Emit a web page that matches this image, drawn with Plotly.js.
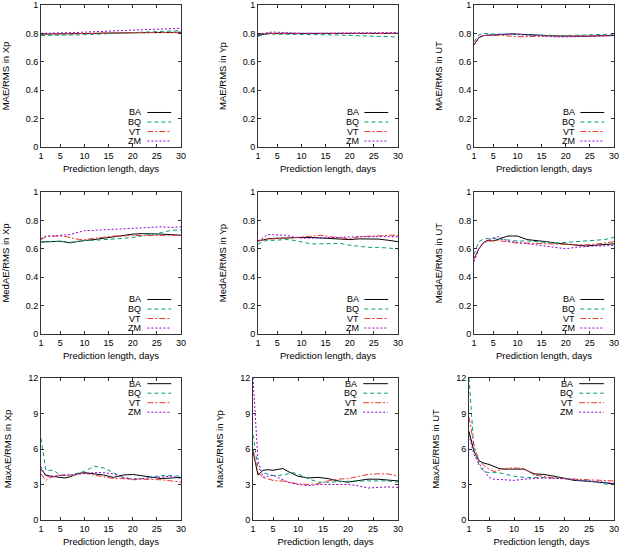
<!DOCTYPE html>
<html>
<head>
<meta charset="utf-8">
<script src="https://cdn.plot.ly/plotly-3.0.1.min.js"></script>
<style>
html,body{margin:0;padding:0;background:#fff;}
#chart{width:622px;height:549px;}
</style>
</head>
<body>
<div id="chart"></div>
<script>
// ---------- data ----------
const days = [1,2,3,4,5,6,7,8,9,10,12,14,16,18,20,22,24,26,28,30];
const seriesNames = ['BA','BQ','VT','ZM'];
const xTickVals = [1,5,10,15,20,25,30];
const ratioTickVals = [0,0.2,0.4,0.6,0.8,1];
const ratioTickText = ['0','0.2','0.4','0.6','0.8','1'];
const maxTickVals = [0,3,6,9,12];
const maxTickText = ['0','3','6','9','12'];
const panelTitles = ['MAE/RMS in Xp','MAE/RMS in Yp','MAE/RMS in UT',
                     'MedAE/RMS in Xp','MedAE/RMS in Yp','MedAE/RMS in UT',
                     'MaxAE/RMS in Xp','MaxAE/RMS in Yp','MaxAE/RMS in UT'];
const xTitle = 'Prediction length, days';

// MAE/RMS in Xp
const maeXp_BA = [0.795,0.795,0.795,0.795,0.795,0.795,0.795,0.795,0.796,0.797,0.800,0.802,0.803,0.805,0.806,0.807,0.808,0.808,0.808,0.808];
const maeXp_BQ = [0.785,0.785,0.786,0.786,0.787,0.788,0.789,0.790,0.790,0.791,0.794,0.797,0.800,0.803,0.806,0.809,0.812,0.815,0.818,0.820];
const maeXp_VT = [0.795,0.795,0.796,0.796,0.796,0.797,0.797,0.797,0.798,0.798,0.800,0.802,0.804,0.805,0.806,0.806,0.806,0.806,0.806,0.805];
const maeXp_ZM = [0.800,0.800,0.801,0.802,0.803,0.804,0.805,0.806,0.807,0.808,0.811,0.814,0.817,0.820,0.823,0.826,0.829,0.832,0.834,0.836];
// MAE/RMS in Yp
const maeYp_BA = [0.785,0.795,0.800,0.800,0.800,0.800,0.800,0.800,0.800,0.800,0.800,0.800,0.800,0.800,0.799,0.798,0.798,0.799,0.800,0.800];
const maeYp_BQ = [0.780,0.790,0.795,0.795,0.795,0.795,0.795,0.794,0.793,0.792,0.792,0.792,0.790,0.788,0.786,0.783,0.780,0.778,0.776,0.775];
const maeYp_VT = [0.790,0.800,0.800,0.800,0.800,0.800,0.800,0.800,0.800,0.800,0.800,0.800,0.800,0.800,0.800,0.800,0.800,0.800,0.800,0.800];
const maeYp_ZM = [0.790,0.800,0.805,0.810,0.810,0.808,0.805,0.803,0.800,0.800,0.800,0.800,0.800,0.800,0.800,0.802,0.803,0.805,0.806,0.806];
// MAE/RMS in UT
const maeUT_BA = [0.720,0.770,0.785,0.787,0.790,0.792,0.795,0.797,0.797,0.795,0.790,0.787,0.785,0.782,0.780,0.780,0.780,0.782,0.784,0.785];
const maeUT_BQ = [0.740,0.790,0.800,0.795,0.795,0.795,0.795,0.795,0.795,0.795,0.790,0.787,0.785,0.785,0.785,0.787,0.790,0.792,0.795,0.795];
const maeUT_VT = [0.720,0.770,0.785,0.787,0.788,0.787,0.785,0.782,0.780,0.777,0.777,0.780,0.782,0.780,0.780,0.780,0.780,0.780,0.782,0.785];
const maeUT_ZM = [0.720,0.770,0.785,0.788,0.790,0.792,0.793,0.795,0.795,0.793,0.787,0.782,0.777,0.775,0.775,0.777,0.778,0.780,0.782,0.785];
// MedAE/RMS in Xp
const medXp_BA = [0.648,0.650,0.652,0.653,0.653,0.648,0.642,0.648,0.655,0.658,0.665,0.675,0.680,0.695,0.703,0.707,0.707,0.703,0.700,0.695];
const medXp_BQ = [0.648,0.650,0.652,0.653,0.653,0.650,0.645,0.650,0.655,0.658,0.660,0.663,0.667,0.673,0.680,0.690,0.705,0.715,0.730,0.733];
const medXp_VT = [0.665,0.685,0.688,0.690,0.690,0.687,0.680,0.672,0.665,0.665,0.675,0.685,0.690,0.690,0.695,0.693,0.692,0.695,0.695,0.695];
const medXp_ZM = [0.670,0.690,0.690,0.692,0.695,0.697,0.700,0.710,0.720,0.728,0.730,0.733,0.736,0.740,0.745,0.750,0.753,0.755,0.750,0.755];
// MedAE/RMS in Yp
const medYp_BA = [0.655,0.665,0.670,0.673,0.675,0.675,0.675,0.677,0.678,0.680,0.680,0.677,0.675,0.672,0.665,0.670,0.670,0.668,0.660,0.650];
const medYp_BQ = [0.630,0.655,0.658,0.660,0.660,0.663,0.665,0.662,0.655,0.645,0.635,0.635,0.638,0.638,0.625,0.615,0.610,0.610,0.607,0.600];
const medYp_VT = [0.655,0.665,0.670,0.670,0.670,0.672,0.675,0.677,0.680,0.680,0.690,0.695,0.685,0.680,0.670,0.685,0.690,0.695,0.695,0.695];
const medYp_ZM = [0.655,0.680,0.700,0.700,0.700,0.700,0.695,0.685,0.680,0.675,0.675,0.678,0.680,0.680,0.685,0.685,0.685,0.685,0.685,0.685];
// MedAE/RMS in UT
const medUT_BA = [0.530,0.600,0.645,0.660,0.655,0.665,0.680,0.690,0.690,0.690,0.665,0.660,0.650,0.640,0.635,0.625,0.620,0.625,0.630,0.635];
const medUT_BQ = [0.560,0.650,0.670,0.675,0.675,0.670,0.665,0.662,0.660,0.655,0.655,0.648,0.645,0.640,0.645,0.650,0.652,0.657,0.665,0.680];
const medUT_VT = [0.530,0.600,0.645,0.655,0.660,0.657,0.655,0.650,0.645,0.640,0.640,0.637,0.635,0.635,0.630,0.625,0.627,0.632,0.640,0.650];
const medUT_ZM = [0.510,0.600,0.645,0.665,0.675,0.685,0.670,0.655,0.650,0.645,0.640,0.630,0.620,0.605,0.600,0.610,0.617,0.620,0.620,0.625];
// MaxAE/RMS in Xp
const maxXp_BA = [4.3,3.8,3.7,3.65,3.6,3.55,3.65,3.8,3.95,4.0,3.9,3.8,3.6,3.8,3.85,3.75,3.6,3.5,3.55,3.6];
const maxXp_BQ = [6.9,4.2,4.2,4.1,3.75,3.75,3.8,3.9,4.0,4.1,4.55,4.4,4.0,3.6,3.45,3.5,3.65,3.75,3.75,3.7];
const maxXp_VT = [3.9,3.35,3.6,3.7,3.8,3.8,3.7,3.8,3.95,3.95,3.8,3.7,3.5,3.5,3.4,3.45,3.45,3.4,3.3,3.2];
const maxXp_ZM = [4.5,3.7,3.7,3.75,3.8,3.8,3.8,3.85,3.9,3.95,4.0,4.0,3.9,3.6,3.45,3.5,3.55,3.65,3.7,3.5];
// MaxAE/RMS in Yp
const maxYp_BA = [5.8,3.8,4.2,4.25,4.2,4.25,4.35,4.1,3.9,3.7,3.55,3.6,3.5,3.3,3.2,3.3,3.45,3.45,3.4,3.3];
const maxYp_BQ = [7.2,4.4,4.0,3.85,3.75,3.75,3.8,3.9,4.0,3.9,3.5,3.2,3.2,3.25,3.3,3.3,3.3,3.3,3.3,3.2];
const maxYp_VT = [6.0,4.0,3.6,3.45,3.35,3.3,3.3,3.2,3.1,3.05,3.0,3.05,3.3,3.45,3.5,3.7,3.85,3.9,3.9,3.7];
const maxYp_ZM = [12.0,5.0,3.6,3.7,3.8,3.6,3.4,3.2,3.1,3.0,2.9,3.0,3.0,3.0,3.0,2.9,2.7,2.75,2.8,2.75];
// MaxAE/RMS in UT
const maxUT_BA = [7.5,5.8,5.0,4.8,4.7,4.5,4.35,4.3,4.3,4.3,4.3,3.9,3.85,3.7,3.5,3.35,3.3,3.25,3.15,3.05];
const maxUT_BQ = [12.0,6.0,4.6,4.1,4.0,4.0,4.0,3.9,3.8,3.7,3.6,3.6,3.6,3.6,3.55,3.4,3.35,3.25,3.05,3.0];
const maxUT_VT = [8.7,6.3,5.0,4.6,4.3,4.1,4.2,4.3,4.4,4.4,4.35,3.8,3.65,3.55,3.5,3.45,3.42,3.4,3.35,3.3];
const maxUT_ZM = [7.2,5.5,4.8,4.2,3.6,3.45,3.42,3.4,3.37,3.35,3.45,3.5,3.55,3.5,3.5,3.4,3.35,3.3,3.2,3.1];

const panels = [
  [maeXp_BA, maeXp_BQ, maeXp_VT, maeXp_ZM],
  [maeYp_BA, maeYp_BQ, maeYp_VT, maeYp_ZM],
  [maeUT_BA, maeUT_BQ, maeUT_VT, maeUT_ZM],
  [medXp_BA, medXp_BQ, medXp_VT, medXp_ZM],
  [medYp_BA, medYp_BQ, medYp_VT, medYp_ZM],
  [medUT_BA, medUT_BQ, medUT_VT, medUT_ZM],
  [maxXp_BA, maxXp_BQ, maxXp_VT, maxXp_ZM],
  [maxYp_BA, maxYp_BQ, maxYp_VT, maxYp_ZM],
  [maxUT_BA, maxUT_BQ, maxUT_VT, maxUT_ZM]
];

// ---------- styling ----------
const W = 622, H = 549;
const colors = ['#000000','#009e73','#e8392a','#9400d3'];
const dashes = ['solid','4px,3px','6px,2px,2px,2px','2px,2px'];
const FONT = '"Liberation Sans", Arial, Helvetica, sans-serif';
// plot boxes in pixels [left, right, top, bottom]
const boxes = [
  [41,181,5,147],[258,398,5,147],[474,614,5,147],
  [41,181,192,334],[258,398,192,334],[474,614,192,334],
  [41,181,378,520],[253,398,378,520],[469,614,378,520]
];

const traces = [];
const layout = {
  width: W, height: H,
  margin: {l:0,r:0,t:0,b:0},
  paper_bgcolor: '#fff', plot_bgcolor: '#fff',
  showlegend: false,
  font: {family: FONT, size: 9, color: '#000'},
  annotations: [], shapes: []
};

panels.forEach((series, p) => {
  const k = p + 1;
  const xa = 'x' + (k === 1 ? '' : k), ya = 'y' + (k === 1 ? '' : k);
  const isMax = p >= 6;
  series.forEach((vals, s) => {
    traces.push({
      type: 'scatter', mode: 'lines', x: days, y: vals, name: seriesNames[s],
      xaxis: xa, yaxis: ya, hoverinfo: 'skip',
      line: {color: colors[s], dash: dashes[s], width: 1}
    });
  });
  const b = boxes[p];
  const axBase = {
    showgrid: false, zeroline: false, showline: true, mirror: 'ticks',
    linecolor: '#333', linewidth: 1, ticks: 'inside', ticklen: 3, tickwidth: 1,
    tickcolor: '#333', tickfont: {family: FONT, size: 9, color: '#000'},
    fixedrange: true
  };
  layout['xaxis' + (k === 1 ? '' : k)] = Object.assign({}, axBase, {
    domain: [b[0]/W, b[1]/W], anchor: ya, range: [1, 30],
    tickmode: 'array', tickvals: xTickVals,
    title: {text: xTitle, font: {family: FONT, size: 9.5, color: '#000'}, standoff: 5}
  });
  layout['yaxis' + (k === 1 ? '' : k)] = Object.assign({}, axBase, {
    domain: [1 - b[3]/H, 1 - b[2]/H], anchor: xa,
    range: isMax ? [0, 12] : [0, 1],
    tickmode: 'array', tickvals: isMax ? maxTickVals : ratioTickVals,
    ticktext: isMax ? maxTickText : ratioTickText,
    title: {text: panelTitles[p], font: {family: FONT, size: 9.5, color: '#000'}, standoff: 14}
  });
  // key (text then sample line), bottom-right for ratio rows, top-right for MaxAE row
  const keyY = isMax ? [0.960, 0.893, 0.826, 0.759] : [0.243, 0.176, 0.109, 0.042];
  seriesNames.forEach((nm, s) => {
    layout.annotations.push({
      xref: xa + ' domain', yref: ya + ' domain', x: 0.725, y: keyY[s],
      xanchor: 'right', yanchor: 'middle', showarrow: false, text: nm,
      borderpad: 0, font: {family: FONT, size: 9, color: '#000'}
    });
    layout.shapes.push({
      type: 'line', xref: xa + ' domain', yref: ya + ' domain',
      x0: 0.76, x1: 0.93, y0: keyY[s], y1: keyY[s],
      line: {color: colors[s], dash: dashes[s], width: 1}
    });
  });
});

Plotly.newPlot('chart', traces, layout, {staticPlot: true, displayModeBar: false});
</script>
</body>
</html>
